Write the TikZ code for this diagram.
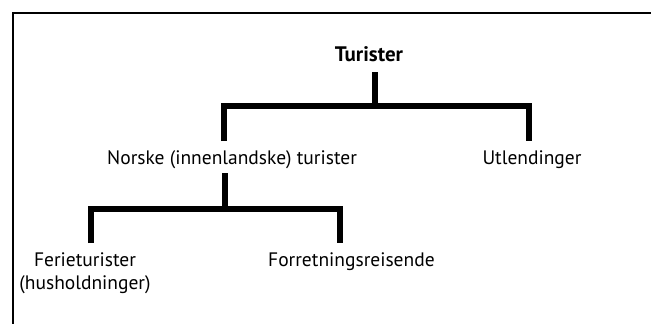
\documentclass[tikz,border=0pt]{standalone}
\usepackage{fontspec}
\setmainfont{PT Sans}
\begin{document}
\begin{tikzpicture}[x=1pt,y=-1pt,
  lbl/.style={inner sep=0pt, font=\fontsize{19.5}{23}\selectfont},
  bar/.style={line width=5.5pt, line cap=butt, line join=miter}]
\useasboundingbox (0,0) rectangle (651,324);
\draw[line width=1.5pt] (13,330) -- (13,13) -- (660,13);
\node[lbl, font=\fontsize{21}{23}\selectfont\bfseries, anchor=base] (tur) at (369,61) {Turister};
\node[lbl, anchor=base west] (nor) at (107,164) {Norske (innenlandske) turister};
\node[lbl, anchor=base] (utl) at (532,164) {Utlendinger};
\node[lbl, anchor=base, align=center] (fer) at (85,289) {Ferieturister\\(husholdninger)};
\node[lbl, anchor=base west] (for) at (268,266) {Forretningsreisende};
\coordinate (t1) at (375,72);
\coordinate (j1) at (375,106);
\coordinate (l1) at (224,141);
\coordinate (r1) at (529,141);
\coordinate (t2) at (225,173);
\coordinate (j2) at (225,209);
\coordinate (l2) at (91,243);
\coordinate (r2) at (340,243);
\draw[bar] (t1) -- (j1);
\draw[bar] (l1) |- (j1) -| (r1);
\draw[bar] (t2) -- (j2);
\draw[bar] (l2) |- (j2) -| (r2);
\end{tikzpicture}
\end{document}
